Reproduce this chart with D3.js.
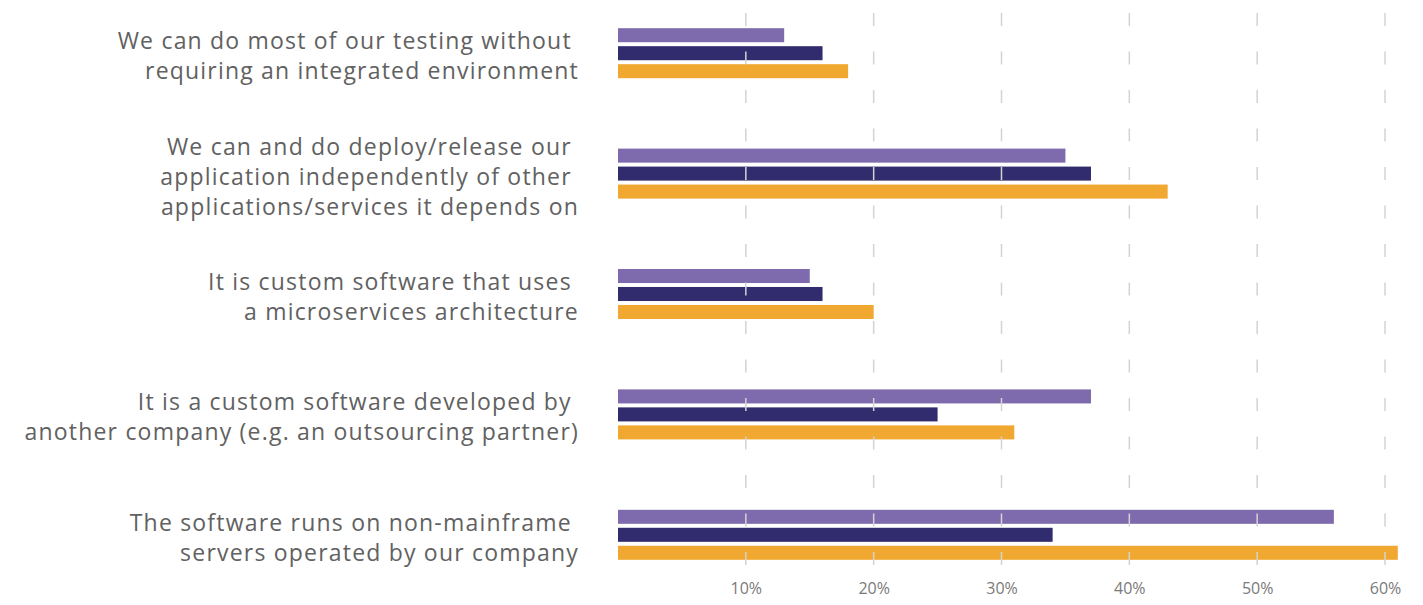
<!DOCTYPE html>
<html><head><meta charset="utf-8">
<script src="https://cdn.jsdelivr.net/npm/d3@7"></script>
<style>
html,body{margin:0;padding:0;background:#fff;}
svg text{font-family:"Open Sans",sans-serif;white-space:pre;}
</style></head>
<body><svg id="c" width="1423" height="605"></svg>
<script>
const categories = [
  ["We can do most of our testing without ", "requiring an integrated environment"],
  ["We can and do deploy/release our ", "application independently of other ", "applications/services it depends on"],
  ["It is custom software that uses ", "a microservices architecture"],
  ["It is a custom software developed by ", "another company (e.g. an outsourcing partner)"],
  ["The software runs on non-mainframe ", "servers operated by our company"]
];
const seriesNames = ["Series A", "Series B", "Series C"];
const seriesA = [13, 35, 15, 37, 56];
const seriesB = [16, 37, 16, 25, 34];
const seriesC = [18, 43, 20, 31, 61];
const tickValues = [10, 20, 30, 40, 50, 60];
const colors = ["#7E6BAD", "#312C6E", "#F0A830"];

const svg = d3.select("#c");
const x = d3.scaleLinear().domain([0, 60]).range([618, 1385]);
const y = d3.scaleBand().domain(d3.range(categories.length)).range([-7, 595]).paddingInner(0).paddingOuter(0);
const inner = d3.scaleBand().domain(seriesNames).range([-25, 25]).paddingInner(0.22);

const series = [seriesA, seriesB, seriesC];
const gBars = svg.append("g");
series.forEach((vals, si) => {
  gBars.selectAll(null).data(vals).enter().append("rect")
    .attr("x", x(0))
    .attr("y", (d, i) => y(i) + y.bandwidth() / 2 + inner(seriesNames[si]))
    .attr("width", d => x(d) - x(0))
    .attr("height", inner.bandwidth())
    .attr("fill", colors[si]);
});

// gridlines
const grid = svg.append("g");
grid.selectAll("line").data(tickValues).enter().append("line")
  .attr("x1", d => x(d)).attr("x2", d => x(d))
  .attr("y1", 13).attr("y2", 575)
  .attr("stroke", "#d3d3d3").attr("stroke-width", 1.5)
  .attr("stroke-dasharray", "13,25.5");

// x axis tick labels
const axis = d3.axisBottom(x).tickValues(tickValues).tickFormat(d => d + "%").tickSize(0).tickPadding(0);
const ax = svg.append("g").attr("transform", "translate(0,583)").call(axis);
ax.select(".domain").remove();
ax.selectAll("text").attr("font-family", "Open Sans").attr("font-size", 16).attr("fill", "#7a7a7a");

// category labels
const lh = 30;
const labels = svg.append("g");
categories.forEach((lines, i) => {
  const cy = y(i) + y.bandwidth() / 2 + 3;
  const t = labels.append("text").attr("text-anchor", "end")
    .attr("font-size", 23).attr("letter-spacing", "1.2px").attr("fill", "#616161");
  lines.forEach((ln, j) => {
    t.append("tspan").attr("x", 579)
      .attr("y", cy + (j - (lines.length - 1) / 2) * lh)
      .attr("dy", "0.35em").text(ln);
  });
});
</script></body></html>
